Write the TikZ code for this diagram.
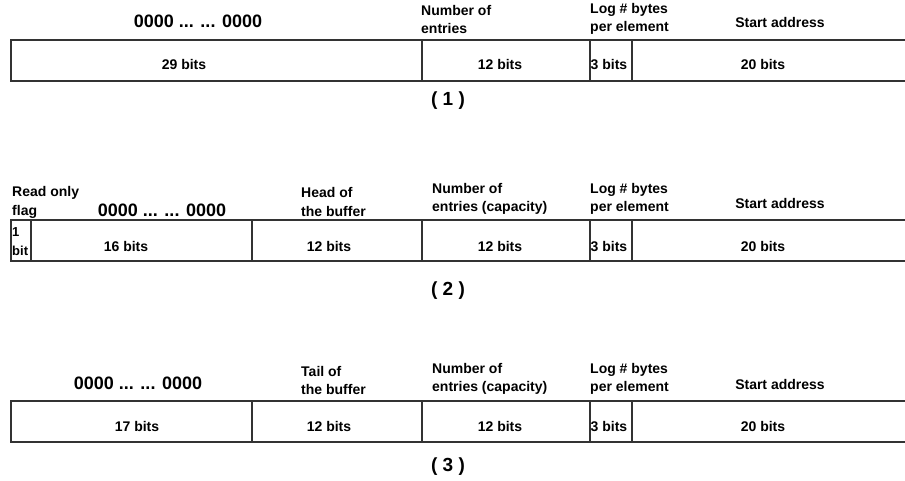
\documentclass[tikz,border=0pt]{standalone}
\usepackage{fontspec}
\setmainfont{Liberation Sans}
\begin{document}
\begin{tikzpicture}[x=1pt,y=-1pt,
  field/.style={draw=black!80, line width=1.5pt, minimum height=41pt, inner sep=0pt, outer sep=0pt, anchor=north west},
  lbl/.style={font=\bfseries\fontsize{14}{18}\selectfont, inner sep=0pt, align=left},
  big/.style={font=\bfseries\fontsize{18}{22}\selectfont, inner sep=0pt},
  caption/.style={font=\bfseries\fontsize{19}{22}\selectfont, inner sep=0pt},
  tiny/.style={font=\bfseries\fontsize{13}{19}\selectfont, inner sep=0pt, align=left}]
\useasboundingbox (0,0) rectangle (905,481);

% ---------- layout (1) ----------
\node[field, minimum width=411pt] (a1) at (11,40) {};
\node[field, minimum width=168pt] (a2) at (422,40) {};
\node[field, minimum width=42pt]  (a3) at (590,40) {};
\node[field, minimum width=280pt] (a4) at (632,40) {};

\node[big] (az) at (198,21) {0000 ... ... 0000};
\node[lbl, anchor=west] (an) at (421,19) {Number of\\entries};
\node[lbl, anchor=west] (al) at (590,19) {Log \# bytes\\per element};
\node[lbl] (as) at (780,22) {Start address};
\node[lbl] (ab1) at (184,64) {29 bits};
\node[lbl] (ab2) at (500,64) {12 bits};
\node[lbl] (ab3) at (609,64.5) {3 bits};
\node[lbl] (ab4) at (763,64) {20 bits};
\node[caption] (acap) at (448,101) {( 1 )};

% ---------- layout (2) ----------
\node[field, minimum width=20pt]  (b1) at (11,220) {};
\node[field, minimum width=221pt] (b2) at (31,220) {};
\node[field, minimum width=170pt] (b3) at (252,220) {};
\node[field, minimum width=168pt] (b4) at (422,220) {};
\node[field, minimum width=42pt]  (b5) at (590,220) {};
\node[field, minimum width=280pt] (b6) at (632,220) {};

\node[lbl, anchor=west, font=\bfseries\fontsize{14}{19}\selectfont] (bro) at (12,202) {Read only\\flag};
\node[big] (bz) at (162,210) {0000 ... ... 0000};
\node[lbl, anchor=west, font=\bfseries\fontsize{14}{19}\selectfont] (bh) at (301,202) {Head of\\the buffer};
\node[lbl, anchor=west] (bn) at (432,199) {Number of\\entries (capacity)};
\node[lbl, anchor=west] (bl) at (590,199) {Log \# bytes\\per element};
\node[lbl] (bs) at (780,203) {Start address};
\node[tiny, anchor=west] (bb0) at (12,242) {1\\bit};
\node[lbl] (bb1) at (126,246) {16 bits};
\node[lbl] (bb2) at (329,246) {12 bits};
\node[lbl] (bb3) at (500,246) {12 bits};
\node[lbl] (bb4) at (609,246.5) {3 bits};
\node[lbl] (bb5) at (763,246) {20 bits};
\node[caption] (bcap) at (448,291) {( 2 )};

% ---------- layout (3) ----------
\node[field, minimum width=241pt] (c1) at (11,401) {};
\node[field, minimum width=170pt] (c2) at (252,401) {};
\node[field, minimum width=168pt] (c3) at (422,401) {};
\node[field, minimum width=42pt]  (c4) at (590,401) {};
\node[field, minimum width=280pt] (c5) at (632,401) {};

\node[big] (cz) at (138,383) {0000 ... ... 0000};
\node[lbl, anchor=west] (ct) at (301,380) {Tail of\\the buffer};
\node[lbl, anchor=west] (cn) at (432,379) {Number of\\entries (capacity)};
\node[lbl, anchor=west] (cl) at (590,379) {Log \# bytes\\per element};
\node[lbl] (cs) at (780,384) {Start address};
\node[lbl] (cb1) at (137,426) {17 bits};
\node[lbl] (cb2) at (329,426) {12 bits};
\node[lbl] (cb3) at (500,426) {12 bits};
\node[lbl] (cb4) at (609,426.5) {3 bits};
\node[lbl] (cb5) at (763,426) {20 bits};
\node[caption] (ccap) at (448,467) {( 3 )};
\end{tikzpicture}
\end{document}
